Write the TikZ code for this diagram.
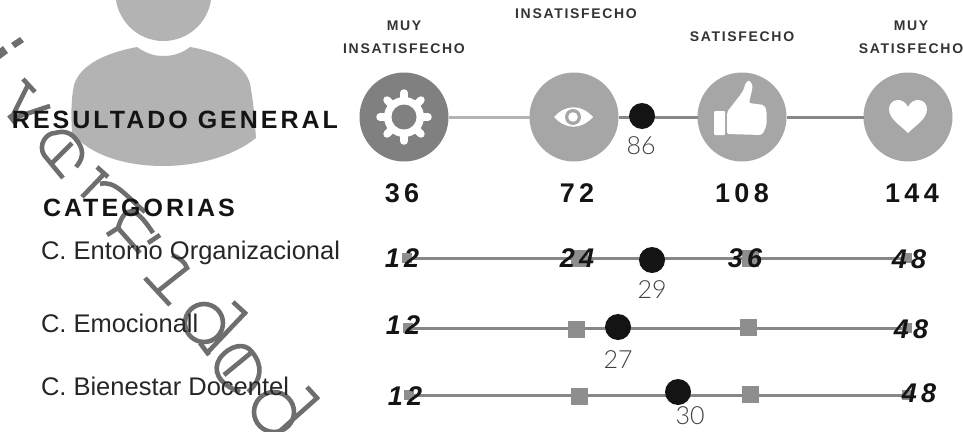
\documentclass[tikz,border=0pt]{standalone}
\usepackage{fontspec}
\setmainfont{Liberation Sans}
\newfontfamily\wideF[LetterSpace=12]{Liberation Sans}
\newfontfamily\smallF[LetterSpace=12]{Liberation Sans}
\newfontfamily\numF[LetterSpace=16]{Liberation Sans}
\newfontfamily\lightF{Lato Light}
\definecolor{ink}{HTML}{141414}
\definecolor{person}{HTML}{B3B3B3}
\definecolor{wmgray}{HTML}{6E6E6E}
\definecolor{disc}{HTML}{A6A6A6}
\definecolor{discdark}{HTML}{808080}
\definecolor{sq}{HTML}{8E8E8E}
\tikzset{
  txt/.style={inner sep=0pt,outer sep=0pt,text=ink},
  head/.style={txt,font=\fontsize{25}{25}\selectfont\wideF\bfseries,anchor=west},
  cat/.style={txt,font=\fontsize{25.5}{26}\selectfont,anchor=west,text=black!85},
  lvl/.style={txt,font=\fontsize{14}{14}\selectfont\smallF\bfseries,text=black!80},
  total/.style={txt,font=\fontsize{27}{27}\selectfont\numF\bfseries},
  score/.style={txt,font=\fontsize{27}{27}\selectfont\numF\bfseries\itshape},
  val/.style={txt,font=\fontsize{25}{25}\selectfont\lightF,text=black!75},
  disk/.style={circle,fill=disc,minimum size=89pt,inner sep=0pt,outer sep=0pt},
  blackdot/.style={circle,fill=ink,inner sep=0pt,outer sep=0pt},
  bigsq/.style={rectangle,fill=sq,minimum size=17pt,inner sep=0pt,outer sep=0pt},
  smallsq/.style={rectangle,fill=sq,minimum size=10pt,inner sep=0pt,outer sep=0pt},
  link/.style={line width=3pt,draw=sq!95!black},
  wm/.style={draw=wmgray,line width=4.6pt,line cap=butt,line join=miter},
  icon/.style={fill=white,draw=none}
}
\begin{document}
\begin{tikzpicture}[x=1pt,y=-1pt]
\useasboundingbox (0,0) rectangle (963,431);
\clip (0,0) rectangle (963,431);
% person
\fill[person] (163.5,-7) circle (48);
\fill[person] (137,47) .. controls (147,54) and (155,56) .. (163,56) .. controls (172,56) and (181,54) .. (190,47)
 .. controls (225,53) and (250,68) .. (251,90) .. controls (254,105) and (255,125) .. (256,138)
 .. controls (235,155) and (200,166) .. (163,166) .. controls (125,166) and (90,155) .. (72,133)
 .. controls (71,115) and (71,100) .. (74,85) .. controls (80,65) and (105,53) .. (137,47) -- cycle;
% diagonal wm
\fill[wmgray] (11,43) -- (20,37) -- (24,42) -- (15,48) -- cycle;
\fill[wmgray] (-2,50) -- (3,46) -- (8,53) -- (0,59) -- cycle;
\draw[wm] (23,79) -- (35,92);
\draw[wm] (28,85) -- (11,119);
\draw[wm] (9,115) -- (16,124);
\draw[wm] (11,119) -- (50,106);
\draw[wm] (63,178) -- (44,155) .. controls (38,145) and (46,133) .. (55,133) .. controls (65,130) and (72,133) .. (78,142) .. controls (85,152) and (82,160) .. (76,167);
\draw[wm] (51,164) -- (72,143);
\draw[wm] (97,167) -- (108,177);
\draw[wm] (105,173) -- (82,197);
\draw[wm] (100,184) .. controls (115,180) and (125,195) .. (145,212);
\draw[wm] (107,235) -- (118,228) -- (140,253);
\draw[wm] (118,228) .. controls (125,205) and (135,205) .. (153,233);
\draw[wm] (148,243) -- (160,235);
\draw[wm] (145,278) -- (170,305);
\draw[wm] (158,291) -- (187,268) .. controls (185,262) and (180,258) .. (172,255);
\draw[wm] (204,323) circle (19);
\draw[wm] (233,302) -- (245,313) -- (207,353);
\draw[wm] (200,343) -- (209,355);
\draw[wm] (240,392) .. controls (218,384) and (212,370) .. (220,358) .. controls (230,345) and (245,342) .. (252,352) .. controls (263,365) and (262,380) .. (248,392);
\draw[wm] (224,375) -- (252,352);
\draw[wm] (274,412) circle (20);
\draw[wm] (307,387) -- (317,398) -- (280,431);
% top scale
\node[disk,fill=discdark] (gear) at (404,117) {};
\node[disk] (eye) at (574,117) {};
\node[disk] (thumb) at (742,117) {};
\node[disk] (heart) at (908,117) {};
\draw[link,draw=person] (gear) -- (eye);
\draw[link] (eye) -- (thumb);
\draw[link] (thumb) -- (heart);
\node[blackdot,minimum size=26pt] (gdot) at (642,116) {};
% gear icon
\foreach \a in {0,45,...,315}
  \draw[white,line width=7.5pt,line cap=round] (404,117) ++(\a:17) -- ++(\a:7);
\fill[white] (404,117) circle (20);
\fill[discdark] (404,117) circle (12.5);
% eye icon
\fill[icon] (554,117) .. controls (566,104) and (581,104) .. (593,117) .. controls (581,130) and (566,130) .. (554,117) -- cycle;
\fill[disc] (573,117) circle (8);
\fill[white] (573,117) circle (4.8);
% thumb icon
\fill[icon,rounded corners=1pt] (714,111) rectangle (725,135);
\fill[icon,rounded corners=2pt] (727,112) -- (741,94) .. controls (744,89) and (745,85) .. (746,82) .. controls (750,80) and (753,84) .. (752,90) -- (749,103) -- (764,105) .. controls (767,110) and (767,120) .. (766,127) -- (762,135) -- (727,134) -- cycle;
% heart icon
\fill[icon] (908,133) .. controls (900,125) and (889,119) .. (889,109) .. controls (889,99) and (903,96) .. (908,107) .. controls (913,96) and (927,99) .. (927,109) .. controls (927,119) and (916,125) .. (908,133) -- cycle;
% rows
\node[smallsq] (a1) at (407,258) {};
\node[smallsq] (a5) at (907,258) {};
\draw[link] (a1) -- (a5);
\node[bigsq] (a2) at (579,258.5) {};
\node[blackdot,minimum size=26pt] (a3) at (652,260) {};
\node[bigsq] (a4) at (750,258.5) {};
\node[smallsq] (b1) at (408,328) {};
\node[smallsq] (b5) at (907,328) {};
\draw[link] (b1) -- (b5);
\node[bigsq] (b2) at (576,329.5) {};
\node[blackdot,minimum size=26pt] (b3) at (618,327) {};
\node[bigsq] (b4) at (748,327) {};
\node[smallsq] (c1) at (409,395) {};
\node[smallsq] (c5) at (907,395) {};
\draw[link] (c1) -- (c5);
\node[bigsq] (c2) at (579,396.5) {};
\node[blackdot,minimum size=26pt] (c3) at (678,392) {};
\node[bigsq] (c4) at (750,394) {};
% texts
\node[lvl] (l1a) at (404,26) {MUY};
\node[lvl] (l1b) at (404,49) {INSATISFECHO};
\node[lvl] (l2) at (576,14) {INSATISFECHO};
\node[lvl] (l3) at (742,37) {SATISFECHO};
\node[lvl] (l4a) at (911,26) {MUY};
\node[lvl] (l4b) at (911,49) {SATISFECHO};
\node[head] (rg) at (12,120) {RESULTADO GENERAL};
\node[head] (ca) at (43,208) {CATEGORIAS};
\node[cat] (c1t) at (41,253) {C. Entorno Organizacional};
\node[cat] (c2t) at (41,323) {C. Emocionall};
\node[cat] (c3t) at (41,386) {C. Bienestar Docentel};
\node[total] (t1) at (402,193) {36};
\node[total] (t2) at (577,193) {72};
\node[total] (t3) at (742,193) {108};
\node[total] (t4) at (912,193) {144};
\node[val] (v0) at (641,146) {86};
\node[val] (v1) at (652,290) {29};
\node[val] (v2) at (618,360) {27};
\node[val] (v3) at (690,416) {30};
\node[score] (s11) at (402,258) {12};
\node[score] (s12) at (577,258) {24};
\node[score] (s13) at (745,258) {36};
\node[score] (s14) at (909,259) {48};
\node[score] (s21) at (403,325) {12};
\node[score] (s24) at (911,329) {48};
\node[score] (s31) at (405,396) {12};
\node[score] (s34) at (919,393) {48};
\end{tikzpicture}
\end{document}
